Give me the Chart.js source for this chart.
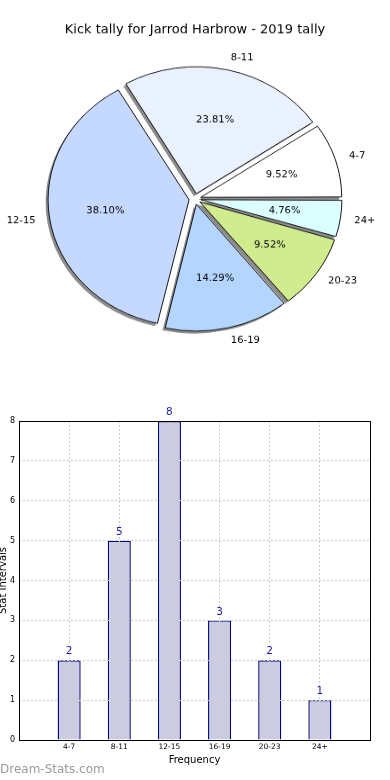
<!DOCTYPE html>
<html>
<head>
<meta charset="utf-8">
<script src="https://cdn.jsdelivr.net/npm/chart.js@4.4.1/dist/chart.umd.min.js"></script>
<style>
  html, body { margin: 0; padding: 0; background: #fff; }
  body { width: 390px; height: 780px; position: relative; overflow: hidden; }
  /* the source image is a little squashed vertically, so the pie is an ellipse */
  #pie { position: absolute; left: 0; top: 0; transform: scaleY(0.9); transform-origin: 0 0; }
  #bars { position: absolute; left: 0; top: 400px; }
</style>
</head>
<body>
<canvas id="pie" width="390" height="442"></canvas>
<canvas id="bars" width="390" height="380"></canvas>
<script>
const categories = ['4-7', '8-11', '12-15', '16-19', '20-23', '24+'];
const kicks = [2, 5, 8, 3, 2, 1];
const sliceColors = ['#ffffff', '#eaf1ff', '#c5d8ff', '#b4d5ff', '#d1ec8e', '#dbffff'];
const pieTitle = 'Kick tally for Jarrod Harbrow - 2019 tally';

const FONT = "'DejaVu Sans', sans-serif";
Chart.defaults.font.family = FONT;

const SQUASH = 0.9;   // matches the css scaleY
const RADIUS = 141;
const EXPLODE = 6;

// matplotlib starts at 3 o'clock and goes counter-clockwise; chart.js goes clockwise,
// so feed the slices in reverse order starting from 3 o'clock
const pieLabels = categories.slice().reverse();
const pieValues = kicks.slice().reverse();
const pieColors = sliceColors.slice().reverse();
const total = kicks.reduce((a, b) => a + b, 0);

function upright(ctx, x, y, fn) {
  ctx.save();
  ctx.translate(x, y);
  ctx.scale(1, 1 / SQUASH);
  fn();
  ctx.restore();
}

const pieExtras = {
  id: 'pieExtras',
  afterDatasetUpdate(chart, args) {
    // chart.js grows the radius of offset slices, undo that so all slices match
    args.meta.data.forEach(arc => {
      const fix = 1 - Math.sin(Math.min(Math.PI, arc.circumference));
      arc.outerRadius = RADIUS - EXPLODE * fix;
    });
  },
  beforeDatasetsDraw(chart) {
    const ctx = chart.ctx;
    const arcs = chart.getDatasetMeta(0).data;
    ctx.save();
    ctx.fillStyle = 'rgba(0,0,0,0.45)';
    arcs.forEach(arc => {
      const mid = (arc.startAngle + arc.endAngle) / 2;
      const cx = arc.x + Math.cos(mid) * EXPLODE - 2.5;
      const cy = arc.y + Math.sin(mid) * EXPLODE + 2.8;
      ctx.beginPath();
      ctx.moveTo(cx, cy);
      ctx.arc(cx, cy, RADIUS, arc.startAngle, arc.endAngle);
      ctx.closePath();
      ctx.fill();
    });
    ctx.restore();
  },
  afterDatasetsDraw(chart) {
    const ctx = chart.ctx;
    const arcs = chart.getDatasetMeta(0).data;
    ctx.save();
    ctx.fillStyle = '#000';
    ctx.textBaseline = 'middle';
    arcs.forEach((arc, i) => {
      const mid = (arc.startAngle + arc.endAngle) / 2;
      const ux = Math.cos(mid), uy = Math.sin(mid);
      const cx = arc.x + ux * EXPLODE;
      const cy = arc.y + uy * EXPLODE;
      ctx.font = '10px ' + FONT;
      ctx.textAlign = ux > 0 ? 'left' : 'right';
      upright(ctx, cx + ux * RADIUS * 1.1, cy + uy * RADIUS * 1.1, () => ctx.fillText(pieLabels[i], 0, 0));
      ctx.textAlign = 'center';
      const pct = (pieValues[i] / total * 100).toFixed(2) + '%';
      upright(ctx, cx + ux * RADIUS * 0.6, cy + uy * RADIUS * 0.6, () => ctx.fillText(pct, 0, 0));
    });
    ctx.font = '13px ' + FONT;
    ctx.textAlign = 'center';
    upright(ctx, chart.width / 2, 30 / SQUASH, () => ctx.fillText(pieTitle, 0, 0));
    ctx.restore();
  }
};

new Chart(document.getElementById('pie'), {
  type: 'pie',
  data: {
    labels: pieLabels,
    datasets: [{
      data: pieValues,
      backgroundColor: pieColors,
      borderColor: '#000',
      borderWidth: 0.9,
      offset: EXPLODE * 4
    }]
  },
  options: {
    responsive: false,
    animation: false,
    events: [],
    rotation: 90,
    radius: RADIUS,
    plugins: { legend: { display: false }, tooltip: { enabled: false } }
  },
  plugins: [pieExtras]
});

// ---- bar chart ----
const barExtras = {
  id: 'barExtras',
  afterDraw(chart) {
    const ctx = chart.ctx;
    const { left, top, right, bottom } = chart.chartArea;
    ctx.save();
    ctx.strokeStyle = '#000';
    ctx.lineWidth = 1;
    ctx.strokeRect(left + 0.5, top + 0.5, right - left, bottom - top);

    ctx.fillStyle = '#1c1ca8';
    ctx.font = '10.5px ' + FONT;
    ctx.textAlign = 'center';
    ctx.textBaseline = 'middle';
    chart.getDatasetMeta(0).data.forEach((bar, i) => {
      ctx.fillText(String(kicks[i]), bar.x, bar.y - 8.5);
    });

    ctx.fillStyle = '#9a9a9a';
    ctx.font = '12px ' + FONT;
    ctx.textAlign = 'left';
    ctx.fillText('Dream-Stats.com', 0, 370);
    ctx.restore();
  }
};

const gridStyle = { color: '#cdcdcd', lineWidth: 1, drawTicks: false, z: 1 };

new Chart(document.getElementById('bars'), {
  type: 'bar',
  data: {
    datasets: [{
      data: categories.map((c, i) => ({ x: i, y: kicks[i] })),
      backgroundColor: '#cbcbe2',
      borderColor: '#00007a',
      borderWidth: 1.4,
      barPercentage: 0.46,
      categoryPercentage: 1
    }]
  },
  options: {
    responsive: false,
    animation: false,
    events: [],
    layout: { padding: { top: 21, right: 20, left: 0, bottom: 0 } },
    plugins: { legend: { display: false }, tooltip: { enabled: false } },
    scales: {
      x: {
        type: 'linear',
        min: -1,
        max: 6,
        offset: false,
        ticks: {
          stepSize: 1,
          autoSkip: false,
          maxRotation: 0,
          color: '#000',
          padding: 3,
          font: { size: 7.5 },
          callback: v => categories[v] ?? ''
        },
        grid: { ...gridStyle, offset: false },
        border: { display: false, dash: [2, 2] },
        title: { display: true, text: 'Frequency', color: '#000', font: { size: 10 }, padding: { top: 0, bottom: 14 } },
        afterFit: s => { s.height = 40; }
      },
      y: {
        min: 0,
        max: 8,
        ticks: { stepSize: 1, color: '#000', padding: 4, font: { size: 8 } },
        grid: gridStyle,
        border: { display: false, dash: [2, 2] },
        title: { display: true, text: 'Stat Intervals', color: '#000', font: { size: 10 }, padding: { top: -3, bottom: 0 } },
        afterFit: s => { s.width = 19; }
      }
    }
  },
  plugins: [barExtras]
});
</script>
</body>
</html>
